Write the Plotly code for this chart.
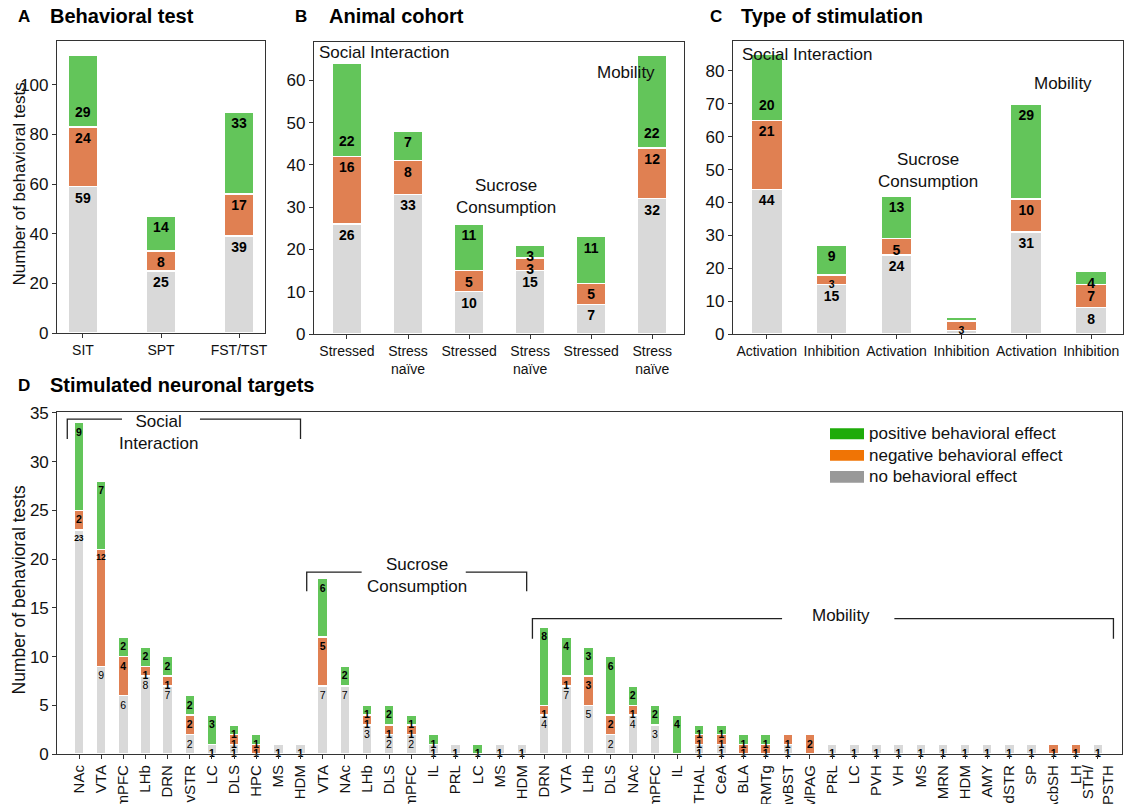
import plotly.graph_objects as go

W, H = 1124, 804
FONT = "Liberation Sans, Arial, Helvetica, sans-serif"

# ---------------- data ----------------
# Panel A: behavioral test
a_tests = ["SIT", "SPT", "FST/TST"]
a_none = [59, 25, 39]
a_neg = [24, 8, 17]
a_pos = [29, 14, 33]

# Panel B: animal cohort
b_cohort = ["Stressed", "Stress<br>naïve", "Stressed", "Stress<br>naïve", "Stressed", "Stress<br>naïve"]
b_none = [26, 33, 10, 15, 7, 32]
b_neg = [16, 8, 5, 3, 5, 12]
b_pos = [22, 7, 11, 3, 11, 22]

# Panel C: type of stimulation
c_stim = ["Activation", "Inhibition", "Activation", "Inhibition", "Activation", "Inhibition"]
c_none = [44, 15, 24, 1, 31, 8]
c_neg = [21, 3, 5, 3, 10, 7]
c_pos = [20, 9, 13, 1, 29, 4]

# Panel D: stimulated neuronal targets
d_targets = ["NAc", "VTA", "mPFC", "LHb", "DRN", "vSTR", "LC", "DLS", "HPC", "MS", "HDM",
             "VTA", "NAc", "LHb", "DLS", "mPFC", "IL", "PRL", "LC", "MS", "HDM",
             "DRN", "VTA", "LHb", "DLS", "NAc", "mPFC", "IL", "THAL", "CeA", "BLA", "RMTg",
             "avBST", "vlPAG", "PRL", "LC", "PVH", "VH", "MS", "MRN", "HDM", "AMY", "dSTR",
             "SP", "AcbSH", "LH", "STH/<br>PSTH"]
d_none = [23, 9, 6, 8, 7, 2, 1, 1, 0, 1, 1,
          7, 7, 3, 2, 2, 1, 1, 0, 1, 1,
          4, 7, 5, 2, 4, 3, 0, 1, 1, 0, 0, 1, 0, 1, 1, 1, 1, 1, 1, 1, 1, 1, 1, 0, 0, 1]
d_neg = [2, 12, 4, 1, 1, 2, 0, 1, 1, 0, 0,
         5, 0, 1, 1, 1, 0, 0, 0, 0, 0,
         1, 1, 3, 2, 1, 0, 0, 1, 1, 1, 1, 1, 2, 0, 0, 0, 0, 0, 0, 0, 0, 0, 0, 1, 1, 0]
d_pos = [9, 7, 2, 2, 2, 2, 3, 1, 1, 0, 0,
         6, 2, 1, 2, 1, 1, 0, 1, 0, 0,
         8, 4, 3, 6, 2, 2, 4, 1, 1, 1, 1, 0, 0, 0, 0, 0, 0, 0, 0, 0, 0, 0, 0, 0, 0, 0]

legend_labels = ["positive behavioral effect", "negative behavioral effect", "no behavioral effect"]

# ---------------- style ----------------
GRAY, ORANGE, GREEN = "#d9d9d9", "#e08052", "#63c55a"
LEG_COLORS = ["#1eab0a", "#f07405", "#999999"]
AXC = "#333333"


def px_x(x):
    return x / W


def px_y(y):
    return 1 - y / H


fig = go.Figure()
annotations = []
shapes = []


def add_panel(sfx, labels, none, neg, pos, width, tsize, d_style=False, lifted=(), small_max=0):
    xs = list(range(len(labels)))
    series = [(none, GRAY), (neg, ORANGE), (pos, GREEN)]
    for k, (vals, col) in enumerate(series):
        if d_style:
            text = [str(v) if v > 0 else "" for v in vals]
            sizes = [8.5 if v >= 10 else 10.5 for v in vals]
            if k == 0:
                weight = ["bold" if (v == 1 or v >= 10) else "normal" for v in vals]
            else:
                weight = "bold"
        else:
            text = [str(v) if v > 1 else "" for v in vals]
            sizes = [10.5 if v <= small_max else tsize for v in vals]
            weight = "bold"
        if k == 2:
            for i in lifted:
                text[i] = ""
        fig.add_trace(go.Bar(
            x=xs, y=vals, xaxis="x" + sfx, yaxis="y" + sfx, width=width,
            marker=dict(color=col, line=dict(color="white", width=1.5)),
            text=text, textposition="inside", insidetextanchor="end", textangle=0,
            constraintext="none", cliponaxis=False,
            textfont=dict(family=FONT, size=sizes, color="black", weight=weight),
            hoverinfo="skip", showlegend=False))
    for i in lifted:
        annotations.append(dict(
            x=xs[i], y=none[i] + neg[i], xref="x" + sfx, yref="y" + sfx,
            text="<b>%d</b>" % pos[i], showarrow=False, yanchor="bottom", yshift=5,
            font=dict(family=FONT, size=tsize, color="black")))


add_panel("", a_tests, a_none, a_neg, a_pos, 0.385, 14, lifted=[0])
add_panel("2", b_cohort, b_none, b_neg, b_pos, 0.49, 14, lifted=[0, 5])
add_panel("3", c_stim, c_none, c_neg, c_pos, 0.48, 14, lifted=[0], small_max=3)
add_panel("4", d_targets, d_none, d_neg, d_pos, 0.45, 10, d_style=True)

ax_common = dict(showline=True, linecolor=AXC, linewidth=1.2, mirror=True,
                 ticks="outside", ticklen=4, tickcolor=AXC, tickwidth=1.2,
                 showgrid=False, zeroline=False, fixedrange=True, automargin=False)


def xaxis(dom, rng, labels, size=14, angle=0):
    return dict(ax_common, domain=dom, range=rng, tickmode="array",
                tickvals=list(range(len(labels))), ticktext=labels, tickangle=angle,
                tickfont=dict(family=FONT, size=size, color="#111"))


def yaxis(dom, rng, dtick):
    return dict(ax_common, domain=dom, range=rng, dtick=dtick, tick0=0,
                tickfont=dict(family=FONT, size=17, color="#111"))


fig.update_layout(
    xaxis=xaxis([px_x(57), px_x(265)], [-0.333, 2.333], a_tests),
    yaxis=yaxis([px_y(333), px_y(41)], [0, 117.6], 20),
    xaxis2=dict(xaxis([px_x(314), px_x(684)], [-0.54, 5.52], b_cohort), anchor="y2"),
    yaxis2=dict(yaxis([px_y(334), px_y(42)], [0, 69.05], 10), anchor="x2"),
    xaxis3=dict(xaxis([px_x(733), px_x(1123)], [-0.52, 5.49], c_stim), anchor="y3"),
    yaxis3=dict(yaxis([px_y(334), px_y(41)], [0, 89.1], 10), anchor="x3"),
    xaxis4=dict(xaxis([px_x(57.3), px_x(1122.3)], [-0.98, 47.1], d_targets, 15, -90), anchor="y4"),
    yaxis4=dict(yaxis([px_y(754), px_y(412)], [0, 35.1], 5), anchor="x4"),
)

# panel titles
titles = [("A", "Behavioral test", 16, 48, 16),
          ("B", "Animal cohort", 293, 327, 16),
          ("C", "Type of stimulation", 708, 739, 16),
          ("D", "Stimulated neuronal targets", 16, 48, 385)]
for letter, title, lx, tx, ty in titles:
    annotations.append(dict(x=px_x(lx), y=px_y(ty), xref="paper", yref="paper", text="<b>%s</b>" % letter,
                            showarrow=False, xanchor="left", yanchor="middle",
                            font=dict(family=FONT, size=17, color="black")))
    annotations.append(dict(x=px_x(tx), y=px_y(ty), xref="paper", yref="paper", text="<b>%s</b>" % title,
                            showarrow=False, xanchor="left", yanchor="middle",
                            font=dict(family=FONT, size=20, color="black")))

# y-axis titles
for ycen, fs in [(184, 17), (590, 17.5)]:
    annotations.append(dict(x=px_x(18.5), y=px_y(ycen), xref="paper", yref="paper",
                            text="Number of behavioral tests", textangle=-90, showarrow=False,
                            xanchor="center", yanchor="middle",
                            font=dict(family=FONT, size=fs, color="#111")))

# group labels
grp_font = dict(family=FONT, size=17, color="#111")
grp = [
    ("2", -0.54, 66.5, "Social Interaction", "left", 3),
    ("2", 2.6, 32.4, "Sucrose<br>Consumption", "center", 0),
    ("2", 4.57, 61.8, "Mobility", "center", 0),
    ("3", -0.52, 85.1, "Social Interaction", "left", 7),
    ("3", 2.49, 49.6, "Sucrose<br>Consumption", "center", 0),
    ("3", 4.57, 76.3, "Mobility", "center", 0),
    ("4", 3.61, 32.96, "Social<br>Interaction", "center", 0),
    ("4", 15.25, 18.34, "Sucrose<br>Consumption", "center", 0),
    ("4", 34.4, 14.2, "Mobility", "center", 0),
]
for sfx, gx, gy, txt, xa, xs in grp:
    annotations.append(dict(x=gx, y=gy, xref="x" + sfx, yref="y" + sfx, text=txt, showarrow=False,
                            xanchor=xa, yanchor="middle", xshift=xs, align="center", font=grp_font))

# brackets in panel D (x in bar index units, y in count units)
brackets = [
    (-0.53, 1.94, 5.46, 10.0, 34.36, 32.34),
    (10.28, 12.76, 17.46, 20.21, 18.66, 16.71),
    (20.47, 31.74, 36.81, 46.7, 13.89, 11.84),
]
for xl, xm1, xm2, xr, ytop, ybot in brackets:
    path = "M %f,%f L %f,%f L %f,%f M %f,%f L %f,%f L %f,%f" % (
        xl, ybot, xl, ytop, xm1, ytop, xm2, ytop, xr, ytop, xr, ybot)
    shapes.append(dict(type="path", path=path, xref="x4", yref="y4",
                       line=dict(color="#222", width=1.3)))

# legend (panel D)
leg_rows = [(428.3, 439.3), (450, 460.7), (471, 482.7)]
for (y0, y1), col, lab in zip(leg_rows, LEG_COLORS, legend_labels):
    shapes.append(dict(type="rect", xref="paper", yref="paper", x0=px_x(830), x1=px_x(864),
                       y0=px_y(y1), y1=px_y(y0), fillcolor=col, line=dict(width=0)))
    annotations.append(dict(x=px_x(867), y=px_y((y0 + y1) / 2), xref="paper", yref="paper", text=lab,
                            showarrow=False, xanchor="left", yanchor="middle",
                            font=dict(family=FONT, size=17, color="#111")))

fig.update_layout(
    width=W, height=H, margin=dict(l=0, r=0, t=0, b=0, autoexpand=False),
    barmode="stack", showlegend=False,
    plot_bgcolor="white", paper_bgcolor="white",
    font=dict(family=FONT, color="#111"),
    annotations=annotations, shapes=shapes,
)

fig.write_html("out.html", config={"displayModeBar": False},
               post_script="document.body.style.margin='0';document.body.style.overflow='hidden';")
